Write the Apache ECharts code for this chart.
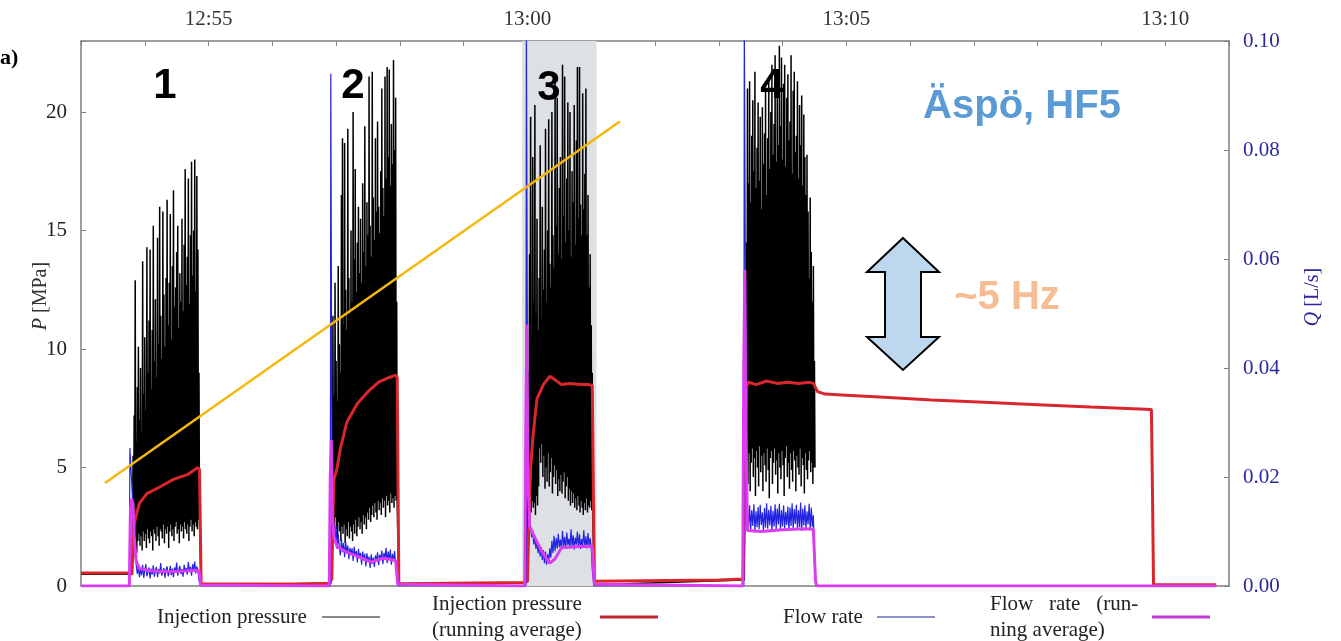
<!DOCTYPE html>
<html>
<head>
<meta charset="utf-8">
<title>Äspö HF5 – injection pressure and flow rate</title>
<script src="https://cdn.jsdelivr.net/npm/echarts@6.0.0/dist/echarts.min.js"></script>
<style>
  html, body { margin: 0; padding: 0; background: #fff; }
  #chart { width: 1341px; height: 641px; }
</style>
</head>
<body>
<div id="chart"></div>
<script>
// Time axis: seconds after 12:53:00
const tickTimes = [120, 420, 720, 1020];
const tickLabels = ['12:55', '13:00', '13:05', '13:10'];

// Pumping stages (start second, one oscillation sample per second)
const stageStart = [49, 236, 420, 625];
const pBaseline = [0.5, 0.1, 0.15, 0.25];

// Injection pressure [MPa] – peak and trough of each oscillation
const pHigh1 = [5.5, 7.2, 12.9, 6.1, 8.4, 10.1, 7.0, 9.2, 6.5, 13.7,
  8.1, 10.5, 7.4, 14.3, 9.0, 11.2, 14.2, 8.3, 10.8, 15.2,
  9.5, 12.1, 8.8, 14.7, 10.2, 16.0, 11.4, 9.6, 15.8, 12.3,
  10.1, 13.0, 16.3, 11.0, 12.8, 15.7, 10.4, 13.5, 16.7, 11.8,
  12.6, 14.1, 15.2, 10.9, 13.2, 12.0, 15.5, 11.6, 14.4, 17.6,
  12.7, 13.9, 17.2, 11.9, 14.8, 17.9, 13.1, 15.0, 18.0, 12.4,
  17.3, 14.2, 9.0];
const pLow1 = [1.2, 1.6, 2.0, 1.4, 1.9, 2.2, 1.7, 2.1, 1.5, 2.3,
  1.9, 2.2, 1.6, 2.4, 2.0, 1.8, 2.3, 2.1, 1.5, 2.4,
  2.2, 1.9, 2.5, 2.1, 1.7, 2.4, 2.3, 2.0, 2.6, 1.8,
  2.4, 2.2, 2.5, 1.6, 2.3, 2.6, 2.1, 2.4, 1.9, 2.5,
  2.7, 2.2, 2.4, 1.8, 2.6, 2.3, 2.5, 2.0, 2.7, 2.4,
  2.2, 2.6, 1.9, 2.5, 2.8, 2.3, 2.6, 2.1, 2.7, 2.5,
  2.4, 2.8, 2.6];
const pHigh2 = [6.0, 11.4, 8.0, 12.8, 9.5, 7.8, 13.5, 10.2, 9.0, 16.5,
  18.9, 11.0, 18.7, 12.5, 10.8, 19.3, 13.0, 11.5, 15.0, 12.0,
  20.0, 13.8, 17.6, 12.4, 14.5, 16.0, 13.2, 15.5, 12.8, 17.0,
  14.1, 19.4, 13.5, 16.2, 14.8, 21.5, 15.2, 13.9, 21.7, 16.4,
  14.6, 18.9, 15.8, 19.6, 16.0, 14.9, 17.5, 21.0, 16.8, 15.6,
  21.5, 17.2, 21.9, 18.1, 21.8, 16.9, 19.5, 17.8, 22.2, 18.4,
  20.6, 12.0];
const pLow2 = [1.5, 2.6, 2.2, 2.9, 2.4, 2.0, 2.7, 2.3, 1.9, 2.5,
  2.2, 2.6, 1.8, 2.4, 2.1, 2.7, 2.0, 2.5, 2.3, 1.9,
  2.6, 2.2, 2.8, 2.1, 2.5, 2.9, 2.4, 2.7, 2.2, 3.0,
  2.6, 2.9, 2.4, 3.1, 2.8, 3.3, 2.7, 3.0, 3.4, 2.9,
  3.5, 3.1, 2.8, 3.6, 3.2, 3.5, 3.0, 3.7, 3.3, 3.6,
  2.9, 3.8, 3.4, 3.6, 3.1, 3.9, 3.5, 3.7, 3.3, 3.8,
  3.6, 3.4];
const pHigh3 = [5.0, 9.0, 14.0, 19.8, 10.5, 18.1, 12.0, 20.3, 11.5, 15.5,
  10.8, 13.0, 18.6, 11.2, 16.0, 12.5, 14.2, 19.3, 12.0, 15.0,
  19.7, 13.6, 12.6, 20.0, 14.8, 13.4, 21.4, 15.2, 20.6, 14.0,
  16.8, 18.1, 13.8, 22.0, 15.6, 21.5, 14.5, 17.2, 20.4, 15.0,
  20.0, 13.9, 17.5, 16.2, 20.3, 14.4, 18.8, 21.9, 15.5, 21.9,
  16.1, 14.8, 20.8, 15.9, 17.4, 21.0, 14.8, 16.5, 12.6, 14.0,
  11.0, 9.0];
const pLow3 = [2.0, 3.2, 3.4, 3.1, 3.6, 3.3, 3.5, 3.0, 3.8, 3.4,
  4.2, 5.8, 5.2, 6.0, 4.6, 5.5, 4.1, 5.0, 4.4, 5.6,
  4.2, 4.8, 5.4, 3.9, 4.6, 5.1, 4.3, 4.9, 3.8, 4.5,
  4.0, 4.7, 3.9, 4.4, 4.8, 3.7, 4.2, 4.6, 3.6, 4.1,
  3.4, 4.0, 3.5, 3.9, 3.3, 3.7, 3.2, 3.8, 3.4, 3.1,
  3.6, 3.3, 3.0, 3.5, 3.2, 3.7, 3.1, 3.4, 3.3, 3.6,
  3.2, 2.8];
const pHigh4 = [9.0, 14.5, 21.0, 17.0, 21.3, 16.2, 19.0, 20.5, 17.5, 21.7,
  16.8, 18.5, 20.4, 17.1, 19.8, 15.9, 20.2, 17.8, 19.1, 21.0,
  16.5, 18.9, 21.5, 17.6, 20.0, 22.0, 18.2, 19.5, 22.4, 17.9,
  20.8, 18.6, 22.8, 19.4, 22.3, 18.0, 21.2, 22.0, 17.7, 20.6,
  21.6, 18.8, 19.6, 22.4, 17.4, 20.9, 21.7, 18.3, 19.0, 21.3,
  17.2, 20.3, 18.6, 20.7, 16.9, 19.9, 18.1, 16.5, 18.2, 15.8,
  13.0, 16.4, 14.1, 12.0, 13.5, 9.5];
const pLow4 = [3.0, 5.3, 4.3, 5.6, 4.0, 5.2, 5.8, 4.6, 5.4, 3.8,
  5.7, 5.0, 4.2, 5.9, 4.8, 5.5, 4.0, 5.6, 5.1, 4.4,
  5.8, 4.9, 3.7, 5.4, 5.7, 4.3, 5.2, 5.8, 4.7, 5.3,
  3.9, 5.6, 5.0, 4.5, 5.7, 5.1, 3.8, 5.4, 5.9, 4.6,
  5.2, 4.1, 5.6, 4.9, 4.4, 5.7, 5.3, 4.0, 5.5, 5.0,
  4.7, 5.8, 4.2, 5.4, 5.1, 3.9, 5.6, 4.9, 4.5, 5.3,
  5.7, 4.8, 5.2, 4.3, 5.0, 5.0];

// Injection pressure, running average [MPa]
const pAvgTime = [0, 46, 48, 49, 50, 52, 55, 62, 75, 87, 100, 110, 111.5, 113, 200,
  234, 236, 237, 238, 241, 244, 250, 260, 270, 280, 290, 296, 297.5, 299, 300,
  418, 420, 421, 423, 425, 427, 429, 435, 441, 446, 452, 460, 470, 478, 481, 482, 483, 484,
  600, 623, 625, 626, 628, 635, 645, 655, 665, 675, 685, 689, 693, 700, 720, 760, 800,
  850, 900, 950, 990, 1007, 1008, 1009, 1068];
const pAvgValue = [0.55, 0.55, 0.5, 1.8, 2.6, 3.0, 3.5, 3.9, 4.2, 4.5, 4.7, 5.0, 4.9, 0.1, 0.08,
  0.12, 0.3, 3.0, 4.5, 5.0, 5.8, 6.9, 7.7, 8.2, 8.6, 8.8, 8.9, 8.8, 0.1, 0.1,
  0.15, 0.2, 2.0, 5.0, 6.2, 7.1, 7.9, 8.5, 8.85, 8.7, 8.5, 8.55, 8.5, 8.5, 8.45, 4.0, 0.2, 0.2,
  0.25, 0.3, 5.0, 8.4, 8.6, 8.5, 8.65, 8.55, 8.6, 8.55, 8.6, 8.55, 8.2, 8.1, 8.05, 7.95, 7.85,
  7.75, 7.65, 7.55, 7.48, 7.45, 4.0, 0.05, 0.05];

// Flow rate [mL/s] – start-up spike, then one sample per second of each stage
const flowSpikeTime = [46, 235, 419, 624];
const flowSpikeValue = [25.3, 94, 105, 105];
const flow1 = [14, 9, 5.5, 3.8, 2.2, 3.6, 1.6, 3.1, 2.0, 3.9,
  1.5, 2.8, 4.0, 1.8, 2.5, 3.4, 1.4, 3.2, 2.1, 3.8,
  1.7, 2.9, 3.5, 1.6, 3.1, 2.3, 4.2, 1.9, 2.6, 3.3,
  1.5, 3.0, 3.6, 1.8, 2.4, 3.7, 2.0, 3.2, 1.6, 3.4,
  2.5, 4.3, 1.9, 2.9, 3.7, 2.2, 3.1, 1.7, 3.9, 2.6,
  3.3, 2.1, 4.4, 2.7, 3.5, 1.9, 4.0, 2.8, 4.5, 2.3,
  3.6, 2.9, 1.0];
const flow2 = [26, 14, 10.3, 8.2, 11.0, 6.8, 9.4, 7.1, 5.6, 8.7,
  6.2, 7.9, 5.3, 8.1, 6.0, 7.4, 4.9, 7.0, 5.8, 6.9,
  4.6, 7.2, 5.5, 6.4, 4.3, 6.8, 5.1, 6.1, 3.9, 6.3,
  4.7, 5.9, 3.6, 6.0, 4.4, 5.4, 3.3, 5.8, 4.1, 5.2,
  3.5, 5.6, 4.6, 6.2, 3.8, 5.7, 4.9, 6.5, 4.0, 6.1,
  5.0, 7.0, 4.2, 6.3, 4.8, 6.7, 3.9, 5.9, 4.5, 6.4,
  4.1, 2.0];
const flow3 = [40, 16, 12.0, 10.8, 8.9, 10.2, 7.6, 9.1, 6.8, 8.4,
  6.0, 7.7, 5.4, 7.1, 4.8, 6.6, 4.2, 6.3, 3.9, 5.8,
  4.5, 6.9, 5.2, 8.3, 6.0, 9.2, 6.4, 8.8, 6.9, 9.6,
  7.1, 8.5, 6.6, 10.1, 7.3, 9.0, 6.8, 9.8, 7.5, 8.7,
  6.9, 10.4, 7.2, 9.3, 6.7, 8.9, 7.6, 10.0, 7.0, 9.5,
  6.8, 8.6, 7.4, 10.2, 7.1, 9.1, 6.9, 9.7, 7.3, 8.8,
  7.0, 3.0];
const flow4 = [60, 18, 14.2, 10.6, 14.8, 10.2, 13.9, 11.0, 15.0, 10.0,
  13.7, 10.8, 14.5, 10.4, 14.9, 11.2, 13.5, 10.1, 14.3, 10.7,
  15.2, 10.5, 14.0, 11.1, 14.7, 10.0, 13.8, 10.9, 15.0, 10.4,
  14.2, 11.3, 15.1, 10.3, 13.9, 10.9, 14.8, 10.6, 13.6, 11.2,
  14.6, 10.2, 14.4, 11.0, 15.2, 10.4, 14.1, 11.4, 14.9, 10.5,
  13.9, 10.8, 15.3, 10.1, 14.2, 11.1, 14.8, 10.4, 13.7, 11.3,
  15.1, 10.3, 14.4, 10.9, 13.0, 4.0];

// Flow rate, running average [mL/s]
const qAvgTime = [0, 45.5, 46.5, 47.5, 49, 50, 52, 55, 65, 80, 95, 108, 111, 112.5, 114,
  233.5, 234.5, 235.5, 236.5, 238, 241, 250, 262, 273, 284, 293, 296, 298, 299,
  417.5, 418.5, 419.5, 420.5, 422, 425, 433, 441, 446, 452, 465, 478, 481, 483, 484,
  622.5, 623.5, 624.5, 625.5, 627, 640, 660, 680, 689, 691, 692, 1068];
const qAvgValue = [0, 0, 14, 16, 15, 9, 4.5, 3.2, 2.8, 2.6, 2.7, 2.9, 2.8, 0.2, 0,
  0, 20, 26.8, 12.7, 9, 7.2, 6.2, 5.3, 4.4, 5.1, 4.8, 4.7, 0.3, 0,
  0, 30, 48, 20, 11, 9.7, 6.5, 4.2, 5.0, 7.0, 7.2, 7.3, 7.1, 0.3, 0,
  0, 40, 58, 30, 10.2, 10.0, 10.3, 10.5, 10.4, 1, 0, 0];

// Linear trend of the pressure peaks
const trendTime = [22.6, 506.9];
const trendValue = [4.35, 19.6];

// Highlighted stage (interval in seconds)
const shadeFrom = 415;
const shadeTo = 485;

const stageNames = ['1', '2', '3', '4'];
const seriesNames = ['Injection pressure', 'Injection pressure (running average)',
  'Flow rate', 'Flow rate (running average)'];
const legendLabels = [['Injection pressure'], ['Injection pressure', '(running average)'],
  ['Flow rate'], ['Flow   rate   (run-', 'ning average)']];

// ---- assemble traces -------------------------------------------------------
const pHigh = [pHigh1, pHigh2, pHigh3, pHigh4];
const pLow = [pLow1, pLow2, pLow3, pLow4];
const flows = [flow1, flow2, flow3, flow4];

function zip(xs, ys, scale) {
  return xs.map((x, i) => [x, ys[i] * (scale || 1)]);
}

function pressureTrace() {
  const pts = [];
  pHigh.forEach((hi, k) => {
    const t0 = stageStart[k];
    pts.push([k === 0 ? 0 : t0 - 1, pBaseline[k]]);
    pts.push([t0 - 1, pBaseline[k]]);
    hi.forEach((h, i) => {
      pts.push([t0 + i, h]);
      pts.push([t0 + i + 0.5, pLow[k][i]]);
    });
    if (k < pHigh.length - 1) pts.push([t0 + hi.length + 1, 0.05]);
  });
  return pts;
}

function flowTrace() {
  const pts = [[0, 0]];
  flows.forEach((f, k) => {
    const ts = flowSpikeTime[k];
    pts.push([ts - 0.5, 0]);
    pts.push([ts, flowSpikeValue[k] / 1000]);
    f.forEach((q, i) => pts.push([stageStart[k] + i, q / 1000]));
    pts.push([stageStart[k] + f.length + 0.5, 0]);
  });
  pts.push([1068, 0]);
  return pts;
}

const SERIF = '"Liberation Serif", "Times New Roman", serif';
const SANS = '"Liberation Sans", Arial, sans-serif';

const chart = echarts.init(document.getElementById('chart'), null, { renderer: 'canvas' });

const legendLeft = [157, 432, 783, 990];
const legendTextWidth = [160, 163, 89, 157];
const legendColors = ['#8a8a8a', '#c8262e', '#8f8fc9', '#c23ad6'];
const legendThickness = [2, 3, 2, 3];

const legends = seriesNames.map((name, i) => ({
  data: [{ name: name, itemStyle: { color: legendColors[i], borderWidth: 0 } }],
  left: legendLeft[i],
  top: legendLabels[i].length > 1 ? 591 : 604,
  align: 'right',
  orient: 'horizontal',
  padding: 0,
  icon: 'rect',
  itemWidth: 58,
  itemHeight: legendThickness[i],
  selectedMode: false,
  formatter: () => legendLabels[i].map(l => '{t|' + l + '}').join('\n'),
  textStyle: {
    fontFamily: SERIF, fontSize: 21, color: '#222', lineHeight: 26,
    rich: { t: { width: legendTextWidth[i], align: 'left', fontFamily: SERIF, fontSize: 21, color: '#222', lineHeight: 26 } }
  }
}));

const axisGrey = '#7f7f7f';

const option = {
  animation: false,
  backgroundColor: '#fff',
  grid: { left: 81, right: 112, top: 41, bottom: 55, outerBoundsMode: 'none', containLabel: false },
  legend: legends,
  xAxis: [
    {
      type: 'value', position: 'top', min: 0, max: 1080, interval: 60,
      axisLine: { show: true, onZero: false, lineStyle: { color: axisGrey, width: 1.5 } },
      axisTick: { show: true, inside: true, length: 5, lineStyle: { color: axisGrey } },
      splitLine: { show: false },
      axisLabel: {
        margin: 11, fontFamily: SERIF, fontSize: 21, color: '#333',
        formatter: v => { const i = tickTimes.indexOf(v); return i >= 0 ? tickLabels[i] : ''; }
      }
    },
    {
      type: 'value', position: 'bottom', min: 0, max: 1080,
      axisLine: { show: true, onZero: false, lineStyle: { color: axisGrey, width: 1.5 } },
      axisTick: { show: false }, axisLabel: { show: false }, splitLine: { show: false }
    }
  ],
  yAxis: [
    {
      type: 'value', position: 'left', min: 0, max: 23, interval: 5,
      axisLine: { show: true, onZero: false, lineStyle: { color: axisGrey, width: 1.5 } },
      axisTick: { show: true, inside: true, length: 5, lineStyle: { color: axisGrey } },
      splitLine: { show: false },
      axisLabel: {
        margin: 14, fontFamily: SERIF, fontSize: 21, color: '#222',
        formatter: v => (v % 5 === 0 ? String(v) : '')
      }
    },
    {
      type: 'value', position: 'right', min: 0, max: 0.1, interval: 0.02,
      axisLine: { show: true, onZero: false, lineStyle: { color: axisGrey, width: 1.5 } },
      axisTick: { show: true, inside: true, length: 5, lineStyle: { color: axisGrey } },
      splitLine: { show: false },
      axisLabel: {
        margin: 14, fontFamily: SERIF, fontSize: 21, color: '#2a2a9c',
        formatter: v => v.toFixed(2)
      }
    }
  ],
  series: [
    {
      // shaded stage
      type: 'line', data: [], silent: true, z: 1,
      markArea: {
        silent: true,
        itemStyle: { color: '#dde0e4' },
        data: [[{ xAxis: shadeFrom }, { xAxis: shadeTo }]]
      }
    },
    {
      name: seriesNames[0], type: 'line', data: pressureTrace(),
      showSymbol: false, symbol: 'none', silent: true, z: 2,
      lineStyle: { width: 1.5, color: '#000' }, itemStyle: { color: '#000' }
    },
    {
      name: seriesNames[1], type: 'line', data: zip(pAvgTime, pAvgValue),
      showSymbol: false, symbol: 'none', silent: true, z: 3,
      lineStyle: { width: 3, color: '#d9262c' }, itemStyle: { color: '#d9262c' }
    },
    {
      name: seriesNames[2], type: 'line', yAxisIndex: 1, data: flowTrace(),
      showSymbol: false, symbol: 'none', silent: true, z: 4,
      lineStyle: { width: 1.2, color: '#2323e0' }, itemStyle: { color: '#2323e0' }
    },
    {
      name: seriesNames[3], type: 'line', yAxisIndex: 1, data: zip(qAvgTime, qAvgValue, 0.001),
      showSymbol: false, symbol: 'none', silent: true, z: 5,
      lineStyle: { width: 3, color: '#dc3cef' }, itemStyle: { color: '#dc3cef' }
    },
    {
      name: 'trend', type: 'line', data: zip(trendTime, trendValue),
      showSymbol: false, symbol: 'none', silent: true, z: 6,
      lineStyle: { width: 2.5, color: '#f4b70c' }, itemStyle: { color: '#f4b70c' }
    }
  ],
  graphic: {
    elements: [
      { type: 'text', x: 0, y: 58, z: 100,
        style: { text: 'a)', font: 'bold 22px ' + SERIF, fill: '#000', verticalAlign: 'middle' } },
      ...stageNames.map((s, i) => ({
        type: 'text', x: [165, 353, 549, 772][i], y: [86, 86, 88, 86][i], z: 100,
        style: { text: s, font: 'bold 42px ' + SANS, fill: '#000', align: 'center', verticalAlign: 'middle' }
      })),
      { type: 'text', x: 1022, y: 107, z: 100,
        style: { text: 'Äspö, HF5', font: 'bold 40px ' + SANS, fill: '#5b9bd5', align: 'center', verticalAlign: 'middle' } },
      { type: 'text', x: 1007, y: 298, z: 100,
        style: { text: '~5 Hz', font: 'bold 40px ' + SANS, fill: '#f6bc93', align: 'center', verticalAlign: 'middle' } },
      { type: 'polygon', z: 100,
        shape: { points: [[903, 238], [939, 272], [921, 272], [921, 337], [939, 337], [903, 370],
                          [867, 337], [885, 337], [885, 272], [867, 272]] },
        style: { fill: '#bdd7ee', stroke: '#000', lineWidth: 2 } },
      { type: 'text', x: 41, y: 296, rotation: Math.PI / 2, z: 100,
        style: { text: '{i|P} [MPa]', font: '20px ' + SERIF, fill: '#333', align: 'center', verticalAlign: 'middle',
                 rich: { i: { fontStyle: 'italic', fontFamily: SERIF, fontSize: 20, fill: '#333' } } } },
      { type: 'text', x: 1313, y: 297, rotation: Math.PI / 2, z: 100,
        style: { text: '{i|Q} [L/s]', font: '20px ' + SERIF, fill: '#2a2a9c', align: 'center', verticalAlign: 'middle',
                 rich: { i: { fontStyle: 'italic', fontFamily: SERIF, fontSize: 20, fill: '#2a2a9c' } } } }
    ]
  }
};

chart.setOption(option);
</script>
</body>
</html>
